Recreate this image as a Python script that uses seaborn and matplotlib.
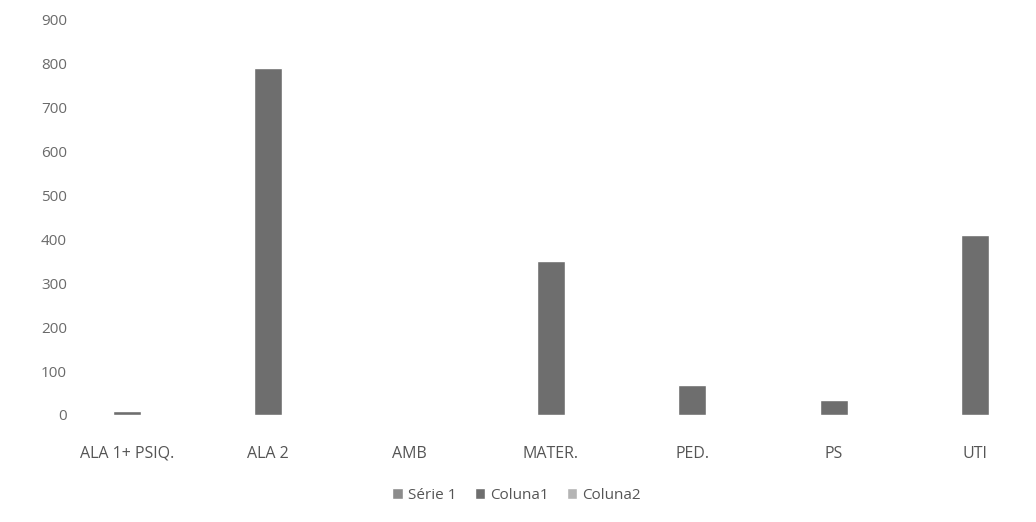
import pandas as pd
import matplotlib
matplotlib.use("Agg")
import matplotlib.pyplot as plt
import seaborn as sns

setores = ["ALA 1+ PSIQ.", "ALA 2", "AMB", "MATER.", "PED.", "PS", "UTI"]
serie1 = [None, None, None, None, None, None, None]
coluna1 = [10, 790, 0, 350, 68, 35, 410]
coluna2 = [None, None, None, None, None, None, None]
series = ["Série 1", "Coluna1", "Coluna2"]

df = pd.DataFrame({
    "setor": setores * 3,
    "serie": [s for s in series for _ in setores],
    "valor": serie1 + coluna1 + coluna2,
})
df["valor"] = df["valor"].astype(float)

sns.set_style("white")
plt.rcParams["font.family"] = ["Open Sans", "DejaVu Sans"]

fig = plt.figure(figsize=(10.36, 5.22), dpi=100)
ax = fig.add_axes([0.054, 0.205, 0.946, 0.757])

sns.barplot(data=df, x="setor", y="valor", hue="serie", order=setores,
            hue_order=series, palette=["#8c8c8c", "#6e6e6e", "#b4b4b4"],
            width=0.6, dodge=True, ax=ax)

ax.set_ylim(0, 900)
ax.set_yticks(range(0, 901, 100))
ax.set_xlim(-0.5, 6.43)
ax.set_xlabel("")
ax.set_ylabel("")
sns.despine(ax=ax, left=True, bottom=True)
ax.tick_params(axis="y", labelsize=11, colors="#6a6a6a", length=0)
ax.tick_params(axis="x", labelsize=11.5, colors="#555555", length=0, pad=22)
ax.yaxis.set_tick_params(pad=-8)

sns.move_legend(ax, "upper center", bbox_to_anchor=(0.47, -0.15), ncol=3,
                frameon=False, title=None, fontsize=11, handlelength=0.7,
                handleheight=0.7, columnspacing=1.2, handletextpad=0.3,
                labelcolor="#555555")

plt.savefig("out.png", dpi=100)
